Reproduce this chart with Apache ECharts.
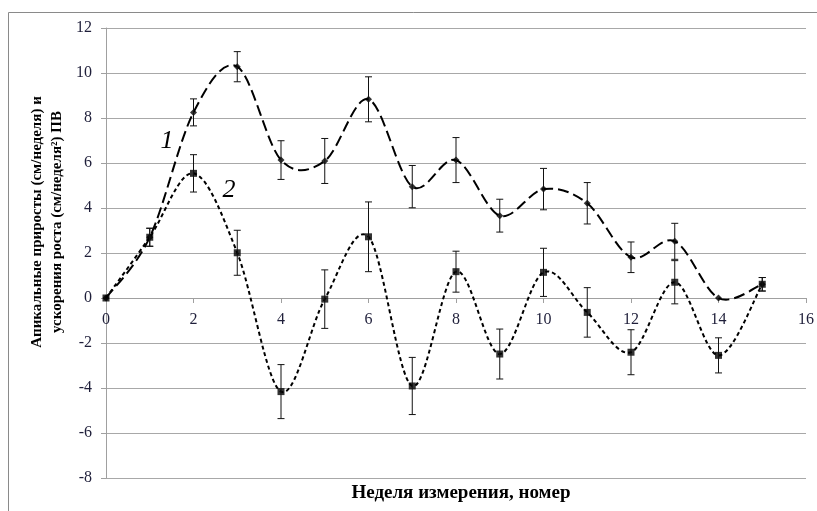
<!DOCTYPE html>
<html>
<head>
<meta charset="utf-8">
<script src="https://cdn.jsdelivr.net/npm/echarts@6/dist/echarts.min.js"></script>
<style>html,body{margin:0;padding:0;background:#fff}#c{width:817px;height:511px}</style>
</head>
<body>
<div id="c"></div>
<script>
const weeks = [0,1,2,3,4,5,6,7,8,9,10,11,12,13,14,15];
const growth = [0,2.7,8.25,10.28,6.13,6.09,8.83,4.95,6.13,3.66,4.84,4.21,1.81,2.52,0,0.61];
const growthErr = [0,0.4,0.6,0.67,0.86,1.0,1.0,0.94,1.0,0.73,0.92,0.92,0.68,0.8,0,0.3];
const accel = [0,2.7,5.54,2.01,-4.16,-0.05,2.72,-3.91,1.17,-2.49,1.14,-0.64,-2.41,0.7,-2.55,0.61];
const accelErr = [0,0.4,0.83,1.0,1.2,1.3,1.55,1.27,0.91,1.11,1.07,1.1,1.0,0.96,0.78,0.3];
const xTicks = [0,2,4,6,8,10,12,14,16];
const yTicks = [-8,-6,-4,-2,0,2,4,6,8,10,12];
const yTitle1 = 'Апикальные приросты (см/неделя) и';
const yTitle2 = 'ускорения роста (см/неделя²) ПВ';
const xTitle = 'Неделя измерения, номер';

const font = '"Liberation Serif", "DejaVu Serif", serif';
function pts(vals){ return weeks.map((w,i)=>[w, vals[i]]); }
function errData(vals, errs){ return weeks.map((w,i)=>[w, vals[i]-errs[i], vals[i]+errs[i]]).filter((d,i)=>errs[i]>0); }
function errRender(params, api){
  const x = api.value(0), lo = api.value(1), hi = api.value(2);
  const a = api.coord([x, hi]), b = api.coord([x, lo]);
  const w = 3.5;
  const st = {stroke:'#111', lineWidth:1};
  return {type:'group', children:[
    {type:'line', shape:{x1:a[0], y1:a[1], x2:b[0], y2:b[1]}, style:st},
    {type:'line', shape:{x1:a[0]-w, y1:a[1], x2:a[0]+w, y2:a[1]}, style:st},
    {type:'line', shape:{x1:b[0]-w, y1:b[1], x2:b[0]+w, y2:b[1]}, style:st}
  ]};
}
function curveRender(vals, dash){
  return function(params, api){
    if (params.dataIndex !== 0) return null;
    const P = weeks.map((w,i)=>api.coord([w, vals[i]]));
    const n = P.length;
    let d = 'M' + P[0][0] + ' ' + P[0][1];
    for (let i = 0; i < n-1; i++){
      const p0 = P[Math.max(i-1,0)], p1 = P[i], p2 = P[i+1], p3 = P[Math.min(i+2,n-1)];
      const c1x = p1[0] + (p2[0]-p0[0])/6, c1y = p1[1] + (p2[1]-p0[1])/6;
      const c2x = p2[0] - (p3[0]-p1[0])/6, c2y = p2[1] - (p3[1]-p1[1])/6;
      d += ' C' + c1x + ' ' + c1y + ' ' + c2x + ' ' + c2y + ' ' + p2[0] + ' ' + p2[1];
    }
    return {type:'path', shape:{pathData:d}, style:{fill:null, stroke:'#000', lineWidth:2, lineDash:dash}};
  };
}
const chart = echarts.init(document.getElementById('c'));
chart.setOption({
  animation:false,
  backgroundColor:'#fff',
  grid:{left:106, right:9, top:28, bottom:33, containLabel:false},
  xAxis:{type:'value', min:xTicks[0], max:xTicks[xTicks.length-1], interval:2, offset:-180,
    axisLine:{show:true, onZero:false, lineStyle:{color:'#a0a0a0', width:1}},
    axisTick:{show:true, length:5, lineStyle:{color:'#a0a0a0'}},
    axisLabel:{margin:14, color:'#1f1f3a', fontFamily:font, fontSize:16},
    splitLine:{show:false}},
  yAxis:{type:'value', min:yTicks[0], max:yTicks[yTicks.length-1], interval:2,
    axisLine:{show:true, onZero:false, lineStyle:{color:'#a0a0a0', width:1}},
    axisTick:{show:true, length:5, lineStyle:{color:'#a0a0a0'}},
    axisLabel:{margin:14, color:'#1f1f3a', fontFamily:font, fontSize:16},
    splitLine:{show:true, lineStyle:{color:'#a8a8a8', width:1}}},
  graphic:[
    {type:'rect', shape:{x:8.5, y:12.5, width:830, height:520}, style:{fill:'none', stroke:'#8a8a8a', lineWidth:1}, silent:true, z:-10},
    {type:'text', x:37, y:222, rotation:Math.PI/2, style:{text:yTitle1, font:'bold 15px '+font, fill:'#000', align:'center', verticalAlign:'middle'}},
    {type:'text', x:57, y:222, rotation:Math.PI/2, style:{text:yTitle2, font:'bold 15px '+font, fill:'#000', align:'center', verticalAlign:'middle'}},
    {type:'text', x:461, y:493, style:{text:xTitle, font:'bold 19px '+font, fill:'#000', align:'center', verticalAlign:'middle'}},
    {type:'text', x:167, y:141, style:{text:'1', font:'italic 26px '+font, fill:'#000', align:'center', verticalAlign:'middle'}},
    {type:'text', x:229, y:190, style:{text:'2', font:'italic 26px '+font, fill:'#000', align:'center', verticalAlign:'middle'}}
  ],
  series:[
    {type:'custom', data:pts(accel), renderItem:curveRender(accel,[4,3]), z:2, clip:false},
    {type:'custom', data:pts(growth), renderItem:curveRender(growth,[11,5]), z:2, clip:false},
    {type:'scatter', data:pts(accel), symbol:'rect', symbolSize:7, itemStyle:{color:'#000'}, z:3},
    {type:'scatter', data:pts(growth), symbol:'diamond', symbolSize:7, itemStyle:{color:'#000'}, z:3},
    {type:'custom', data:errData(growth, growthErr), renderItem:errRender, z:4},
    {type:'custom', data:errData(accel, accelErr), renderItem:errRender, z:4}
  ]
});
</script>
</body>
</html>
